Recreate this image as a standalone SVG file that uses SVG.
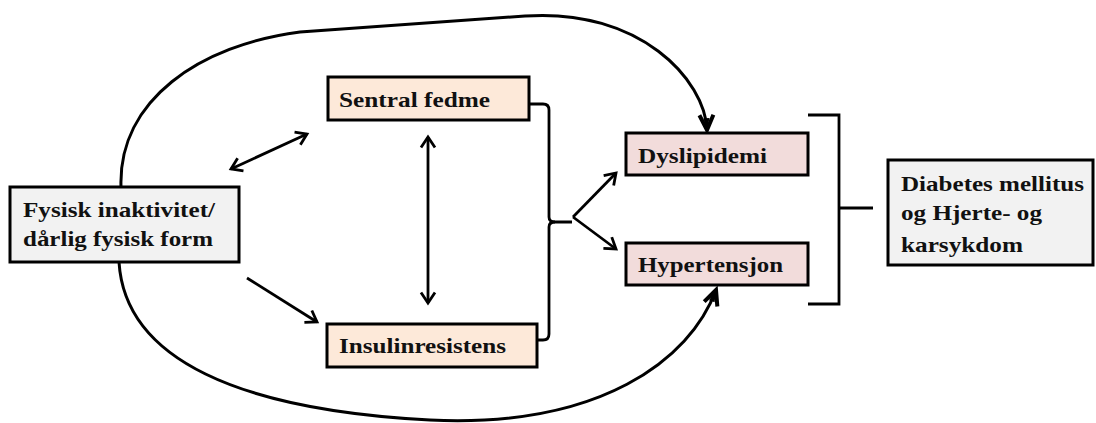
<svg xmlns="http://www.w3.org/2000/svg" width="1096" height="423" viewBox="0 0 1096 423">
<style>
.box{stroke:#000;stroke-width:3}
.gray{fill:#f2f2f2}
.peach{fill:#fde9d9}
.rose{fill:#f2dcdb}
.t{font-family:"Liberation Serif","Times New Roman",serif;font-weight:bold;font-size:22px;fill:#111}
.ln{fill:none;stroke:#000;stroke-width:2.8}
.loop{fill:none;stroke:#000;stroke-width:3}
</style>
<defs>
<marker id="ah" markerUnits="userSpaceOnUse" markerWidth="20" markerHeight="20" refX="0" refY="0" viewBox="-12 -10 14 20" orient="auto-start-reverse">
<path d="M-10.5,-7 L0,0 L-10.5,7" fill="none" stroke="#000" stroke-width="2.8"/>
</marker>
<marker id="bh" markerUnits="userSpaceOnUse" markerWidth="24" markerHeight="24" refX="0" refY="0" viewBox="-18 -12 20 24" orient="auto">
<path d="M-15,-7 L0,0 L-15,7" fill="none" stroke="#000" stroke-width="4" stroke-linejoin="miter"/>
<path d="M-12,-3 L0,0 L-12,3 Z" fill="#000"/>
</marker>
</defs>
<g id="connectors">
<path class="loop" d="M121,187 C118,100 200,45 300,32 L525,16 C640,8 705,80 707,130" marker-end="url(#bh)"/>
<path class="loop" d="M119,262 C125,360 240,410 430,420 C600,428 690,360 716,290" marker-end="url(#bh)"/>
<line class="ln" x1="231" y1="169" x2="307" y2="134" marker-start="url(#ah)" marker-end="url(#ah)"/>
<line class="ln" x1="428" y1="137" x2="428" y2="303" marker-start="url(#ah)" marker-end="url(#ah)"/>
<line class="ln" x1="247" y1="278" x2="317" y2="322" marker-end="url(#ah)"/>
<path class="ln" d="M529,104 L543,104 Q549,104 549,110 L549,217 Q549,222 555,222 L572,222"/>
<path class="ln" d="M537,340 L543,340 Q549,340 549,334 L549,227 Q549,222 555,222"/>
<line class="ln" x1="573" y1="217" x2="616" y2="173" marker-end="url(#ah)"/>
<line class="ln" x1="573" y1="217" x2="616" y2="249" marker-end="url(#ah)"/>
<path class="ln" d="M808,115 L839,115 L839,304 L808,304"/>
<line class="ln" x1="839" y1="208" x2="873" y2="208"/>
</g>
<g id="fysisk">
<rect class="box gray" x="10" y="187" width="229" height="75"/>
<text class="t" x="23" y="217" textLength="192" lengthAdjust="spacingAndGlyphs">Fysisk inaktivitet/</text>
<text class="t" x="23" y="246" textLength="190" lengthAdjust="spacingAndGlyphs">dårlig fysisk form</text>
</g>
<g id="sentral">
<rect class="box peach" x="328" y="77" width="201" height="43"/>
<text class="t" x="339" y="107" textLength="151" lengthAdjust="spacingAndGlyphs">Sentral fedme</text>
</g>
<g id="insulin">
<rect class="box peach" x="327" y="324" width="210" height="43"/>
<text class="t" x="339" y="353" textLength="167" lengthAdjust="spacingAndGlyphs">Insulinresistens</text>
</g>
<g id="dyslipidemi">
<rect class="box rose" x="626" y="133" width="182" height="42"/>
<text class="t" x="638" y="163" textLength="129" lengthAdjust="spacingAndGlyphs">Dyslipidemi</text>
</g>
<g id="hypertensjon">
<rect class="box rose" x="626" y="243" width="182" height="42"/>
<text class="t" x="638" y="272" textLength="145" lengthAdjust="spacingAndGlyphs">Hypertensjon</text>
</g>
<g id="diabetes">
<rect class="box gray" x="888" y="160" width="205" height="105"/>
<text class="t" x="901" y="191" textLength="183" lengthAdjust="spacingAndGlyphs">Diabetes mellitus</text>
<text class="t" x="901" y="220" textLength="141" lengthAdjust="spacingAndGlyphs">og Hjerte- og</text>
<text class="t" x="901" y="252" textLength="122" lengthAdjust="spacingAndGlyphs">karsykdom</text>
</g>
</svg>
